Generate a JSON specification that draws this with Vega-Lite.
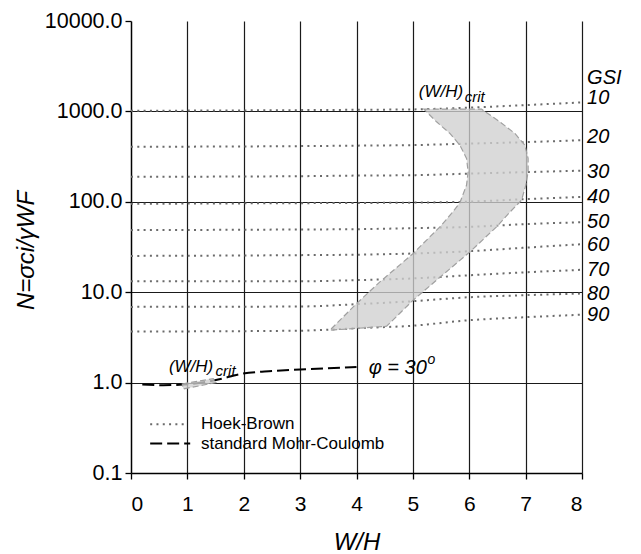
{
  "$schema": "https://vega.github.io/schema/vega-lite/v6.json",
  "width": 451,
  "height": 452,
  "autosize": {"type": "none"},
  "padding": {"left": 131, "top": 21, "right": 59, "bottom": 81},
  "background": "white",
  "config": {"view": {"stroke": null}, "font": "Liberation Sans"},
  "datasets": {
    "gsi": [
      {"g": "10", "x": 0, "N": 1015}, {"g": "10", "x": 3, "N": 1033}, {"g": "10", "x": 4, "N": 1042}, {"g": "10", "x": 5, "N": 1052}, {"g": "10", "x": 6, "N": 1102}, {"g": "10", "x": 7, "N": 1174}, {"g": "10", "x": 8, "N": 1258},
      {"g": "20", "x": 0, "N": 406}, {"g": "20", "x": 3, "N": 413}, {"g": "20", "x": 4, "N": 418}, {"g": "20", "x": 5, "N": 424}, {"g": "20", "x": 6, "N": 440}, {"g": "20", "x": 7, "N": 457}, {"g": "20", "x": 8, "N": 481},
      {"g": "30", "x": 0, "N": 189}, {"g": "30", "x": 3, "N": 192}, {"g": "30", "x": 4, "N": 195}, {"g": "30", "x": 5, "N": 197}, {"g": "30", "x": 6, "N": 205}, {"g": "30", "x": 7, "N": 213}, {"g": "30", "x": 8, "N": 221},
      {"g": "40", "x": 0, "N": 95}, {"g": "40", "x": 3, "N": 96.6}, {"g": "40", "x": 4, "N": 97.1}, {"g": "40", "x": 5, "N": 97.9}, {"g": "40", "x": 6, "N": 100.4}, {"g": "40", "x": 7, "N": 107}, {"g": "40", "x": 8, "N": 113.4},
      {"g": "50", "x": 0, "N": 48.6}, {"g": "50", "x": 3, "N": 49.4}, {"g": "50", "x": 4, "N": 49.8}, {"g": "50", "x": 5, "N": 51.1}, {"g": "50", "x": 6, "N": 52.8}, {"g": "50", "x": 7, "N": 56.6}, {"g": "50", "x": 8, "N": 59.5},
      {"g": "60", "x": 0, "N": 25.2}, {"g": "60", "x": 3, "N": 25.7}, {"g": "60", "x": 4, "N": 26.0}, {"g": "60", "x": 5, "N": 26.8}, {"g": "60", "x": 6, "N": 28.4}, {"g": "60", "x": 7, "N": 31.1}, {"g": "60", "x": 8, "N": 34.0},
      {"g": "70", "x": 0, "N": 13.2}, {"g": "70", "x": 3, "N": 13.2}, {"g": "70", "x": 4, "N": 13.6}, {"g": "70", "x": 5, "N": 14.2}, {"g": "70", "x": 6, "N": 15.4}, {"g": "70", "x": 7, "N": 16.6}, {"g": "70", "x": 8, "N": 17.7},
      {"g": "80", "x": 0, "N": 6.88}, {"g": "80", "x": 3, "N": 6.95}, {"g": "80", "x": 4, "N": 7.37}, {"g": "80", "x": 5, "N": 7.95}, {"g": "80", "x": 6, "N": 8.8}, {"g": "80", "x": 7, "N": 9.27}, {"g": "80", "x": 8, "N": 9.67},
      {"g": "90", "x": 0, "N": 3.67}, {"g": "90", "x": 3, "N": 3.75}, {"g": "90", "x": 4, "N": 4.0}, {"g": "90", "x": 5, "N": 4.26}, {"g": "90", "x": 6, "N": 4.9}, {"g": "90", "x": 7, "N": 5.29}, {"g": "90", "x": 8, "N": 5.64},
      {"g": "legend", "x": 0.34, "N": 0.346}, {"g": "legend", "x": 0.99, "N": 0.346}
    ],
    "mc": [
      {"s": "mc", "x": 0.2, "N": 0.951}, {"s": "mc", "x": 0.57, "N": 0.937}, {"s": "mc", "x": 0.93, "N": 0.951}, {"s": "mc", "x": 1.49, "N": 1.061}, {"s": "mc", "x": 1.99, "N": 1.26}, {"s": "mc", "x": 2.5, "N": 1.34}, {"s": "mc", "x": 3.0, "N": 1.395}, {"s": "mc", "x": 4.0, "N": 1.49},
      {"s": "legend", "x": 0.34, "N": 0.2114}, {"s": "legend", "x": 1.05, "N": 0.2114}
    ],
    "poly": [
      {"p": "big", "i": 1, "x": 5.195, "N": 1060}, {"p": "big", "i": 2, "x": 6.218, "N": 1060}, {"p": "big", "i": 3, "x": 6.543, "N": 767}, {"p": "big", "i": 4, "x": 6.809, "N": 571}, {"p": "big", "i": 5, "x": 6.986, "N": 424}, {"p": "big", "i": 6, "x": 7.044, "N": 302}, {"p": "big", "i": 7, "x": 7.044, "N": 215}, {"p": "big", "i": 8, "x": 7.004, "N": 153}, {"p": "big", "i": 9, "x": 6.927, "N": 104}, {"p": "big", "i": 10, "x": 6.72, "N": 76.8}, {"p": "big", "i": 11, "x": 6.484, "N": 52.8}, {"p": "big", "i": 12, "x": 6.011, "N": 27.9}, {"p": "big", "i": 13, "x": 5.42, "N": 13.6}, {"p": "big", "i": 14, "x": 5.005, "N": 8.16}, {"p": "big", "i": 15, "x": 4.534, "N": 4.2}, {"p": "big", "i": 16, "x": 3.528, "N": 3.8}, {"p": "big", "i": 17, "x": 4.002, "N": 7.5}, {"p": "big", "i": 18, "x": 4.415, "N": 13.0}, {"p": "big", "i": 19, "x": 5.005, "N": 26.8}, {"p": "big", "i": 20, "x": 5.479, "N": 52.8}, {"p": "big", "i": 21, "x": 5.686, "N": 74.3}, {"p": "big", "i": 22, "x": 5.833, "N": 97.4}, {"p": "big", "i": 23, "x": 5.952, "N": 153}, {"p": "big", "i": 24, "x": 5.98, "N": 215}, {"p": "big", "i": 25, "x": 5.952, "N": 302}, {"p": "big", "i": 26, "x": 5.833, "N": 424}, {"p": "big", "i": 27, "x": 5.656, "N": 571}, {"p": "big", "i": 28, "x": 5.42, "N": 767},
      {"p": "small", "i": 1, "x": 0.91, "N": 0.966}, {"p": "small", "i": 2, "x": 1.459, "N": 1.109}, {"p": "small", "i": 3, "x": 1.507, "N": 1.0}, {"p": "small", "i": 4, "x": 0.927, "N": 0.851}
    ],
    "gsilab": [
      {"t": "GSI", "x": 8.09, "N": 2337}, {"t": "10", "x": 8.09, "N": 1393}, {"t": "20", "x": 8.09, "N": 515}, {"t": "30", "x": 8.09, "N": 214.6}, {"t": "40", "x": 8.09, "N": 111.7}, {"t": "50", "x": 8.09, "N": 59.1}, {"t": "60", "x": 8.09, "N": 33.7}, {"t": "70", "x": 8.09, "N": 17.8}, {"t": "80", "x": 8.09, "N": 9.67}, {"t": "90", "x": 8.09, "N": 5.57}
    ],
    "wh": [{"t": "(W/H)", "x": 5.892, "N": 1648}, {"t": "(W/H)", "x": 1.459, "N": 1.49}],
    "crit": [{"t": "crit", "x": 5.92, "N": 1439}, {"t": "crit", "x": 1.5, "N": 1.352}],
    "phi": [{"t": "φ = 30", "x": 5.248, "N": 1.44}],
    "deg": [{"t": "o", "x": 5.26, "N": 1.768}],
    "legtext": [{"t": "Hoek-Brown", "x": 1.241, "N": 0.346}, {"t": "standard Mohr-Coulomb", "x": 1.241, "N": 0.2114}]
  },
  "encoding": {
    "x": {
      "field": "x", "type": "quantitative",
      "scale": {"domain": [0, 8], "nice": false, "zero": false},
      "axis": {
        "title": "W/H", "values": [0, 1, 2, 3, 4, 5, 6, 7, 8], "format": "d",
        "grid": true, "gridColor": "#1a1a1a", "gridWidth": 1.2,
        "gridOpacity": {"condition": {"test": "datum.value < 0.5", "value": 0}, "value": 1},
        "domainColor": "#000", "domainWidth": 1.5, "tickColor": "#000", "tickWidth": 1.3, "tickSize": 6,
        "labelFontSize": 21, "labelColor": "#000", "labelPadding": 14, "labelFont": "Liberation Sans",
        "titleFontSize": 24, "titleFontStyle": "italic", "titleFontWeight": "normal", "titleColor": "#000",
        "titleFont": "Liberation Sans", "titleY": 69, "titleBaseline": "middle"
      }
    },
    "y": {
      "field": "N", "type": "quantitative",
      "scale": {"type": "log", "domain": [0.1, 10000], "nice": false},
      "axis": {
        "title": "N=σci/γWF", "values": [0.1, 1, 10, 100, 1000, 10000], "format": ".1f",
        "grid": true, "gridColor": "#1a1a1a", "gridWidth": 1.2,
        "gridOpacity": {"condition": {"test": "datum.value > 5000 || datum.value < 0.5", "value": 0}, "value": 1},
        "domainColor": "#000", "domainWidth": 1.5, "tickColor": "#000", "tickWidth": 1.3, "tickSize": 6,
        "labelFontSize": 21.5, "labelColor": "#000", "labelPadding": 3, "labelFont": "Liberation Sans",
        "titleFontSize": 24, "titleFontStyle": "italic", "titleFontWeight": "normal", "titleColor": "#000",
        "titleFont": "Liberation Sans", "titleX": -105, "titleY": 229, "titleAngle": 270,
        "titleAlign": "center", "titleBaseline": "middle"
      }
    }
  },
  "layer": [
    {
      "data": {"name": "gsi"},
      "mark": {"type": "line", "interpolate": "monotone", "strokeDash": [2, 4.3], "strokeWidth": 2, "color": "#6b6b6b", "strokeCap": "butt"},
      "encoding": {"detail": {"field": "g"}}
    },
    {
      "data": {"name": "mc"},
      "mark": {"type": "line", "interpolate": "monotone", "strokeDash": [12, 5], "strokeWidth": 2, "color": "#000"},
      "encoding": {"detail": {"field": "s"}}
    },
    {
      "data": {"name": "poly"},
      "mark": {"type": "line", "interpolate": "linear-closed", "fill": "#d0d0d0", "fillOpacity": 0.78, "stroke": "#a0a0a0", "strokeDash": [6, 3], "strokeWidth": 1.2},
      "encoding": {"detail": {"field": "p"}, "order": {"field": "i", "type": "quantitative"}}
    },
    {
      "data": {"name": "gsilab"},
      "mark": {"type": "text", "align": "left", "baseline": "middle", "fontSize": 20, "fontStyle": "italic", "color": "#000", "font": "Liberation Sans"},
      "encoding": {"text": {"field": "t"}}
    },
    {
      "data": {"name": "wh"},
      "mark": {"type": "text", "align": "right", "baseline": "middle", "fontSize": 17, "fontStyle": "italic", "color": "#000", "font": "Liberation Sans"},
      "encoding": {"text": {"field": "t"}}
    },
    {
      "data": {"name": "crit"},
      "mark": {"type": "text", "align": "left", "baseline": "middle", "fontSize": 15, "fontStyle": "italic", "color": "#000", "font": "Liberation Sans"},
      "encoding": {"text": {"field": "t"}}
    },
    {
      "data": {"name": "phi"},
      "mark": {"type": "text", "align": "right", "baseline": "middle", "fontSize": 20, "fontStyle": "italic", "color": "#000", "font": "Liberation Sans"},
      "encoding": {"text": {"field": "t"}}
    },
    {
      "data": {"name": "deg"},
      "mark": {"type": "text", "align": "left", "baseline": "middle", "fontSize": 14, "fontStyle": "italic", "color": "#000", "font": "Liberation Sans"},
      "encoding": {"text": {"field": "t"}}
    },
    {
      "data": {"name": "legtext"},
      "mark": {"type": "text", "align": "left", "baseline": "middle", "fontSize": 17, "color": "#000", "font": "Liberation Sans"},
      "encoding": {"text": {"field": "t"}}
    }
  ]
}
